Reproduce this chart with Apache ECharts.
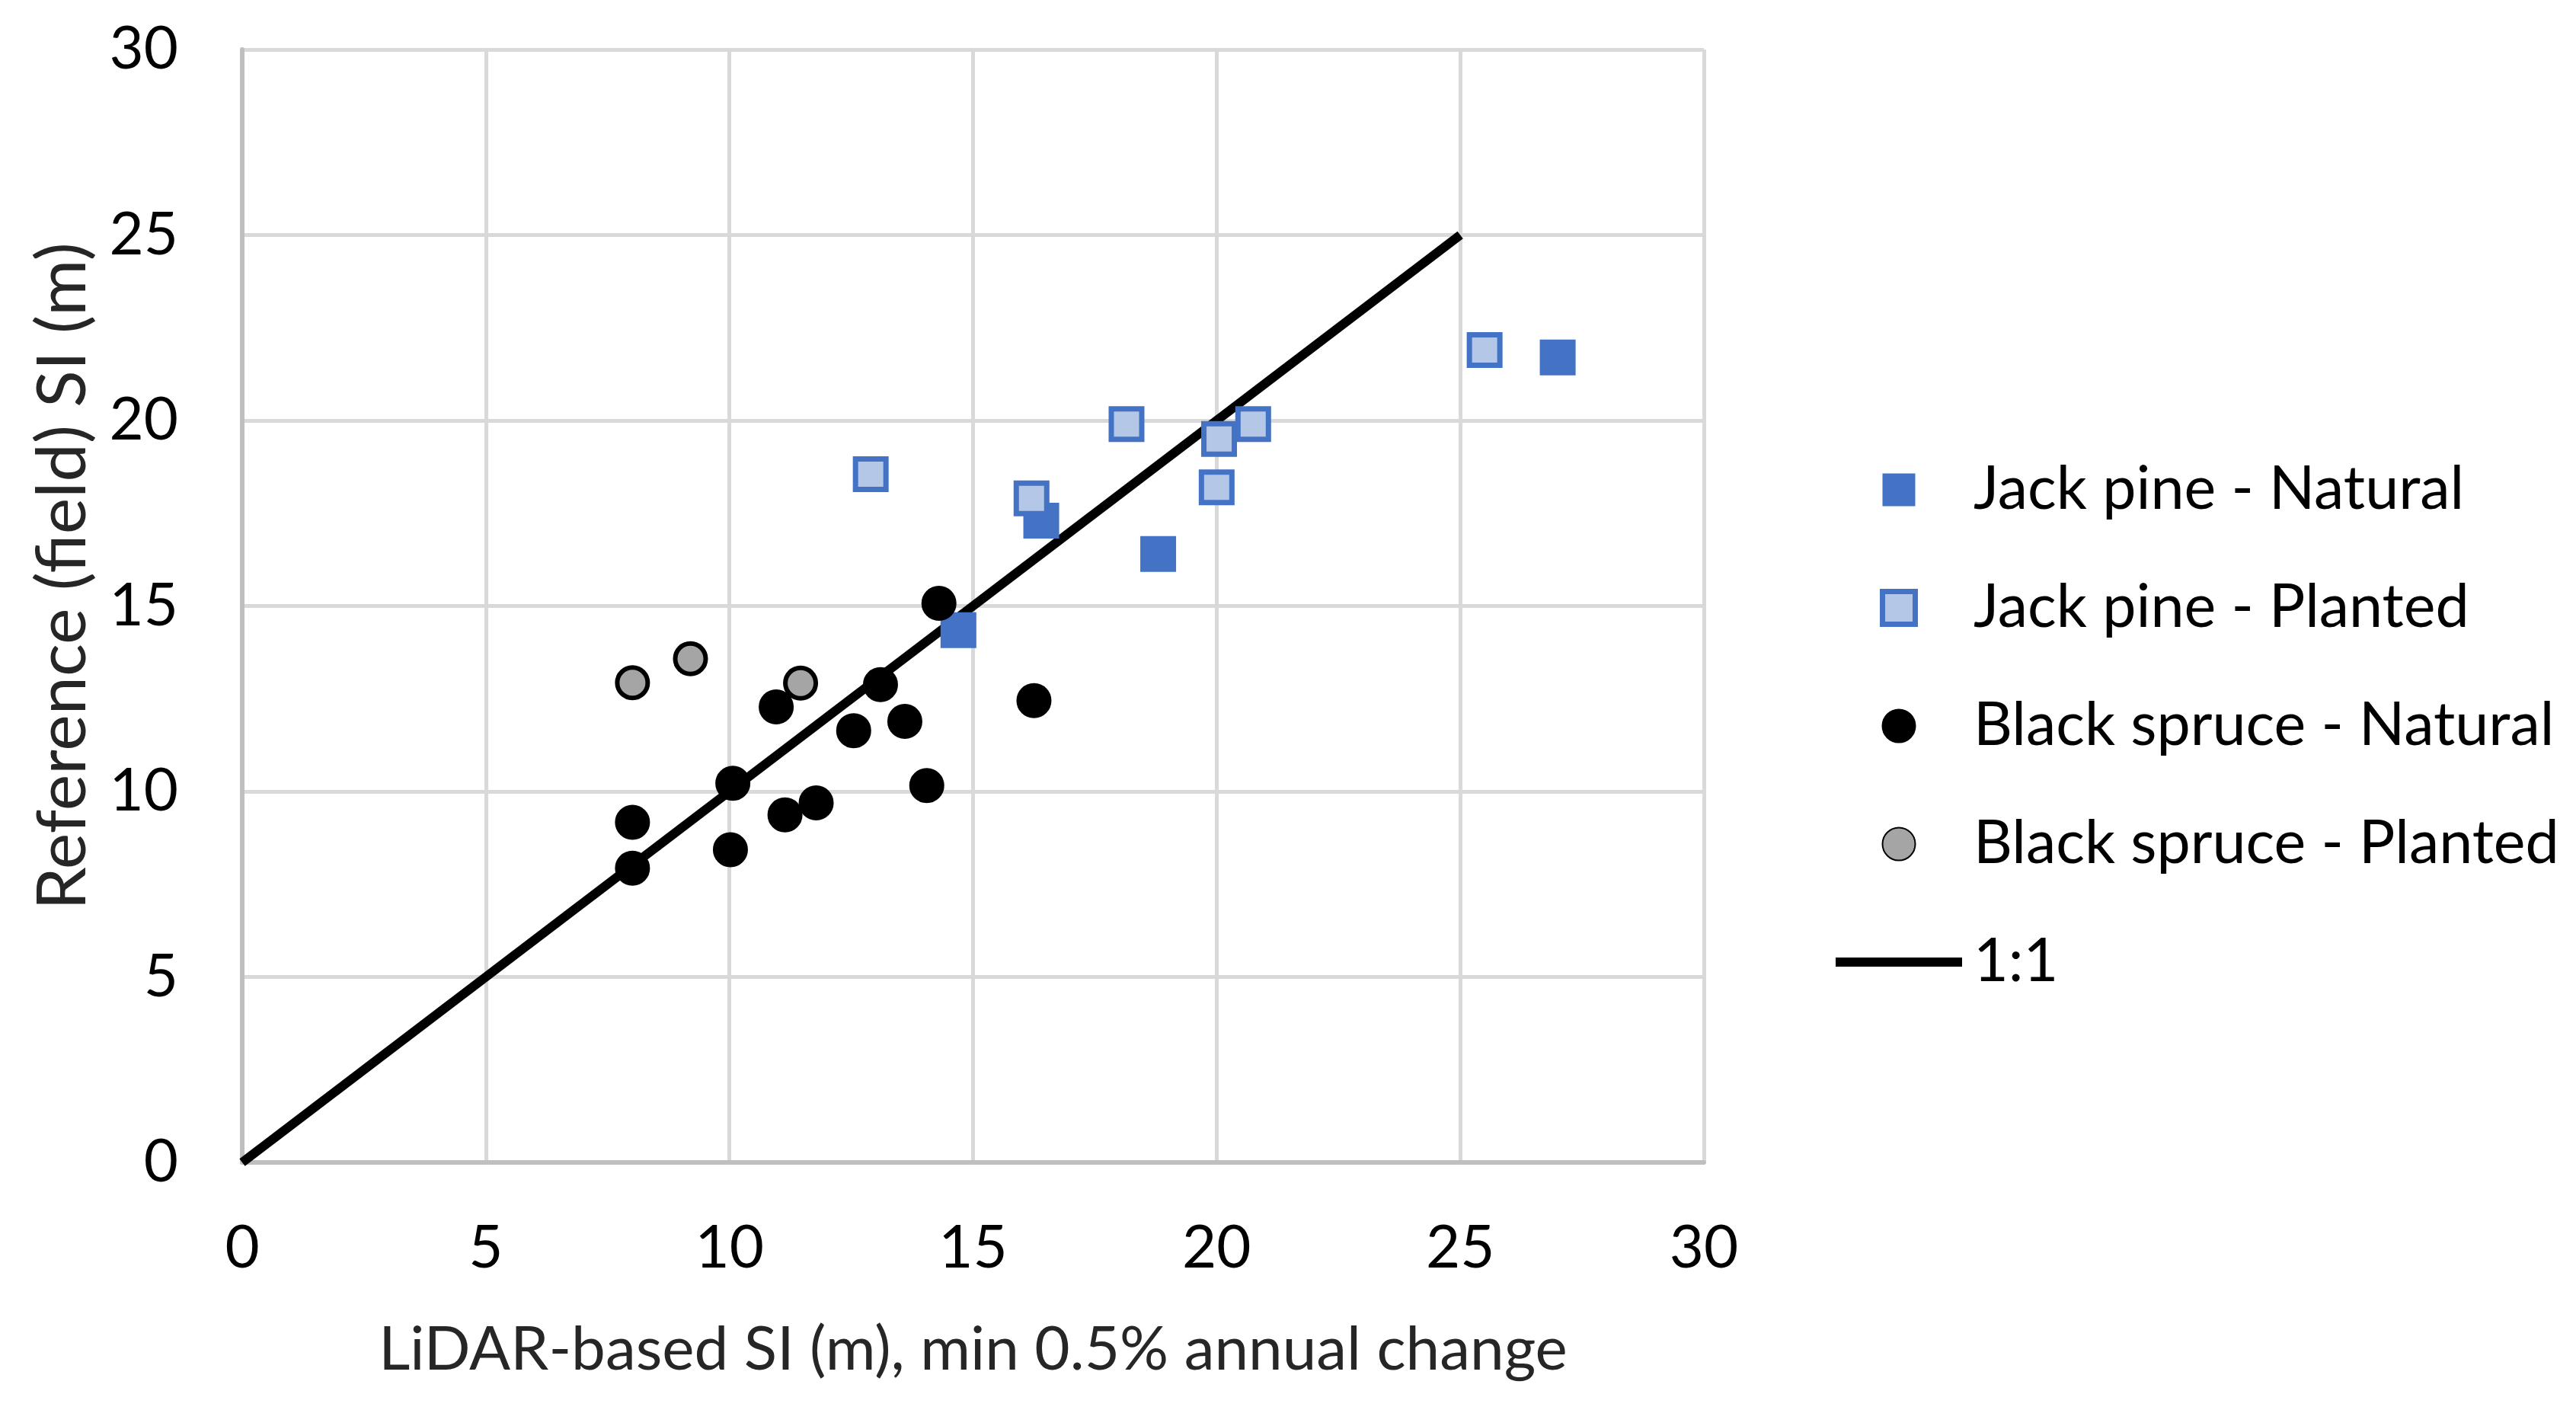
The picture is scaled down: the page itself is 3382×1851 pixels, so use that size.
<!DOCTYPE html>
<html>
<head>
<meta charset="utf-8">
<script src="https://cdn.jsdelivr.net/npm/echarts@6/dist/echarts.min.js"></script>
<style>html,body{margin:0;padding:0;background:#fff}#c{width:3382px;height:1851px}</style>
</head>
<body>
<div id="c"></div>
<script>
const seriesNames = ['Jack pine - Natural', 'Jack pine - Planted', 'Black spruce - Natural', 'Black spruce - Planted', '1:1'];
const xTicks = [0, 5, 10, 15, 20, 25, 30];
const yTicks = [0, 5, 10, 15, 20, 25, 30];
const jackPineNatural = [[27.0, 21.7], [18.8, 16.4], [16.4, 17.3], [14.7, 14.35]];
const jackPinePlanted = [[12.9, 18.55], [16.2, 17.9], [18.15, 19.9], [20.05, 19.5], [20.0, 18.2], [20.75, 19.9], [25.5, 21.9]];
const blackSpruceNatural = [[14.3, 15.07], [16.25, 12.45], [13.1, 12.88], [13.6, 11.89], [12.55, 11.64], [14.05, 10.16], [10.96, 12.28], [10.07, 10.22], [11.78, 9.69], [11.14, 9.37], [8.01, 9.17], [8.01, 7.93], [10.02, 8.43]];
const blackSprucePlanted = [[8.01, 12.93], [9.2, 13.58], [11.46, 12.92]];
const oneToOne = [[0, 0], [25, 25]];

const font = 'Lato';
const squareIcon = 'path://M0,0L10,0L10,10L0,10Z';
const lineIcon = 'path://M0,0L166,0L166,12L0,12Z';
const chart = echarts.init(document.getElementById('c'), null, {renderer: 'canvas'});
chart.setOption({
  animation: false,
  backgroundColor: '#ffffff',
  grid: {left: 318, right: 1145, top: 65, bottom: 325},
  xAxis: {
    type: 'value', min: xTicks[0], max: xTicks[xTicks.length - 1], interval: 5,
    name: 'LiDAR-based SI (m), min 0.5% annual change',
    nameLocation: 'middle', nameGap: 206,
    nameTextStyle: {fontFamily: font, fontSize: 80, color: '#262626'},
    axisLine: {show: true, lineStyle: {color: '#BFBFBF', width: 6}},
    axisTick: {show: false},
    axisLabel: {fontFamily: font, fontSize: 78, color: '#000', margin: 74},
    splitLine: {show: true, lineStyle: {color: '#D9D9D9', width: 5}}
  },
  yAxis: {
    type: 'value', min: yTicks[0], max: yTicks[yTicks.length - 1], interval: 5,
    name: 'Reference (field) SI (m)',
    nameLocation: 'middle', nameGap: 190,
    nameTextStyle: {fontFamily: font, fontSize: 90, color: '#262626', padding: [0, 0, 0, 78]},
    axisLine: {show: true, lineStyle: {color: '#BFBFBF', width: 6}},
    axisTick: {show: false},
    axisLabel: {fontFamily: font, fontSize: 78, color: '#000', margin: 84},
    splitLine: {show: true, lineStyle: {color: '#D9D9D9', width: 5}}
  },
  legend: {
    orient: 'vertical', left: 2405, top: 595,
    itemWidth: 166, itemHeight: 43, itemGap: 69,
    symbolKeepAspect: true,
    textStyle: {fontFamily: font, fontSize: 79, color: '#000', lineHeight: 86, padding: [0, 0, 0, 10]},
    data: [
      {name: seriesNames[0], icon: squareIcon, itemStyle: {color: '#4472C4', borderWidth: 0}},
      {name: seriesNames[1], icon: squareIcon, itemStyle: {color: '#B4C7E7', borderColor: '#4472C4', borderWidth: 7}},
      {name: seriesNames[2], icon: 'circle'},
      {name: seriesNames[3], icon: 'circle'},
      {name: seriesNames[4], icon: lineIcon, itemStyle: {color: '#000', borderWidth: 0}}
    ]
  },
  series: [
    {name: seriesNames[4], type: 'line', data: oneToOne, symbol: 'none', showSymbol: false,
     lineStyle: {color: '#000', width: 12}, itemStyle: {color: '#000'}, z: 3},
    {name: seriesNames[0], type: 'scatter', data: jackPineNatural, symbol: 'rect', symbolSize: 40,
     itemStyle: {color: '#4472C4', borderColor: '#4472C4', borderWidth: 7, opacity: 1}, z: 4},
    {name: seriesNames[1], type: 'scatter', data: jackPinePlanted, symbol: 'rect', symbolSize: 40,
     itemStyle: {color: '#B4C7E7', borderColor: '#4472C4', borderWidth: 7, opacity: 1}, z: 4},
    {name: seriesNames[2], type: 'scatter', data: blackSpruceNatural, symbol: 'circle', symbolSize: 40,
     itemStyle: {color: '#000', borderColor: '#000', borderWidth: 6, opacity: 1}, z: 4},
    {name: seriesNames[3], type: 'scatter', data: blackSprucePlanted, symbol: 'circle', symbolSize: 40,
     itemStyle: {color: '#A5A5A5', borderColor: '#000', borderWidth: 6, opacity: 1}, z: 4}
  ]
});
</script>
</body>
</html>
